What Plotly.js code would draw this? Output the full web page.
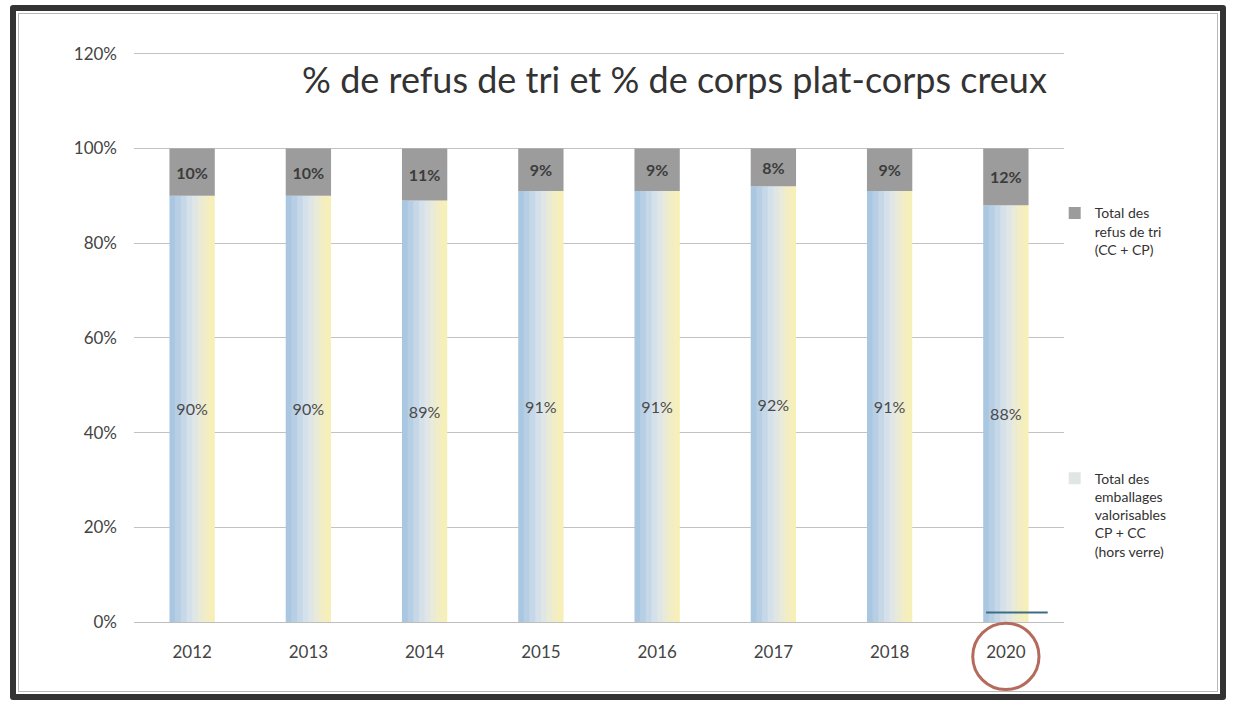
<!DOCTYPE html>
<html>
<head>
<meta charset="utf-8">
<script src="https://cdn.plot.ly/plotly-3.0.1.min.js"></script>
<style>
  body { margin: 0; background: #fff; }
  #frame { position: absolute; left: 10px; top: 5px; width: 1216px; height: 695px;
           box-sizing: border-box; border: 6px solid #333; border-radius: 3px; }
  #inner { position: absolute; left: 2px; top: 2px; right: 2px; bottom: 2px; border: 1px solid #b8b8b8; }
  #chart { position: absolute; left: 0; top: 0; width: 1233px; height: 702px; }
</style>
</head>
<body>
<div id="frame"><div id="inner"></div></div>
<div id="chart"></div>
<script>
const annees = ['2012', '2013', '2014', '2015', '2016', '2017', '2018', '2020'];
const refus = [10, 10, 11, 9, 9, 8, 9, 12];
const valorisables = [90, 90, 89, 91, 91, 92, 91, 88];

const pct = v => v + '%';
const barW = 0.39;
// gradient faked with narrow slices, blue on the left to pale yellow on the right
const slices = ['#aac7e1', '#b7cfe5', '#c6d8e8', '#d4e0ea', '#e0e6e6', '#eaebd6', '#f2edc4', '#f7efb8'];
const sliceW = barW / slices.length;

const data = [];
slices.forEach((c, i) => {
    data.push({
        type: 'bar',
        x: annees,
        y: valorisables,
        // slightly wider than the step so no seams show between slices
        width: i === slices.length - 1 ? sliceW : sliceW * 1.3,
        offset: -barW / 2 + i * sliceW,
        marker: { color: c, line: { width: 0 } },
        name: 'Total des<br>emballages<br>valorisables<br>CP + CC<br>(hors verre)',
        legend: 'legend2',
        showlegend: i === 4,
        hoverinfo: 'skip'
    });
});

// labels of the lower part
data.push({
    type: 'bar',
    x: annees,
    y: valorisables,
    width: barW,
    offset: -barW / 2,
    marker: { color: 'rgba(0,0,0,0)' },
    text: valorisables.map(pct),
    textposition: 'inside',
    insidetextanchor: 'middle',
    textangle: 0,
    constraintext: 'none',
    textfont: { family: 'Lato, sans-serif', size: 16, color: '#4a4a4a' },
    showlegend: false,
    hoverinfo: 'skip'
});

// refus on top
data.push({
    type: 'bar',
    x: annees,
    y: refus,
    base: valorisables,
    width: barW,
    offset: -barW / 2,
    marker: { color: '#9c9c9c', line: { width: 0 } },
    text: refus.map(pct),
    textposition: 'inside',
    insidetextanchor: 'middle',
    textangle: 0,
    constraintext: 'none',
    textfont: { family: 'Lato, sans-serif', size: 16, color: '#3c3c3c', weight: 'bold' },
    name: 'Total des<br>refus de tri<br>(CC + CP)',
    legend: 'legend'
});

const legendStyle = {
    font: { family: 'Lato, sans-serif', size: 14, color: '#333' },
    bgcolor: 'rgba(0,0,0,0)',
    valign: 'top',
    itemwidth: 30,
    xanchor: 'left',
    yanchor: 'top'
};

const layout = {
    width: 1233,
    height: 702,
    barmode: 'overlay',
    paper_bgcolor: 'rgba(0,0,0,0)',
    plot_bgcolor: 'rgba(0,0,0,0)',
    margin: { l: 134, r: 169, t: 49, b: 80 },
    font: { family: 'Lato, sans-serif', color: '#444' },
    title: {
        text: '% de refus de tri et % de corps plat-corps creux',
        font: { family: 'Lato, sans-serif', size: 36, color: '#333' },
        x: 0.547, xanchor: 'center',
        y: 0.885, yanchor: 'middle'
    },
    xaxis: {
        type: 'category',
        tickfont: { size: 17, color: '#444' },
        ticklabelstandoff: 18,
        showline: false,
        showgrid: false
    },
    yaxis: {
        range: [0, 121],
        dtick: 20,
        ticksuffix: '%',
        tickfont: { size: 17, color: '#444' },
        ticklabelstandoff: 16,
        gridcolor: '#c2c2c2',
        gridwidth: 1,
        zeroline: true,
        zerolinecolor: '#bdbdbd',
        showline: false
    },
    legend: Object.assign({ x: 0.99, y: 0.741 }, legendStyle),
    legend2: Object.assign({ x: 0.99, y: 0.278 }, legendStyle),
    shapes: [
        // red circle drawn around the 2020 label
        {
            type: 'circle', xref: 'x', yref: 'paper',
            x0: 6.715, x1: 7.285, y0: -0.118, y1: -0.002,
            line: { color: '#b56a5c', width: 3 }
        },
        // short pen stroke at the foot of the 2020 bar
        {
            type: 'line', xref: 'x', yref: 'y',
            x0: 6.83, x1: 7.36, y0: 2.0, y1: 2.0,
            line: { color: '#3d6e80', width: 2 }
        }
    ]
};

Plotly.newPlot('chart', data, layout, { displayModeBar: false, staticPlot: true });
</script>
</body>
</html>
